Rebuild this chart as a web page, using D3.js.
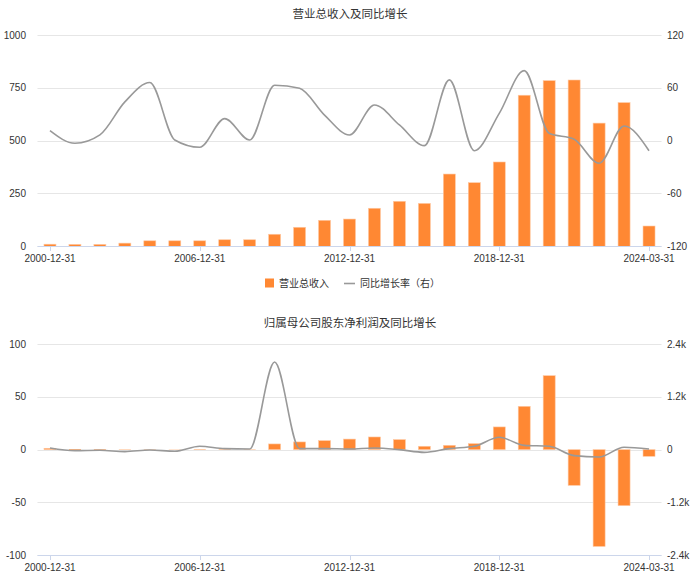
<!DOCTYPE html>
<html>
<head>
<meta charset="utf-8">
<script src="https://cdn.jsdelivr.net/npm/d3@7"></script>
<style>
  html, body { margin: 0; padding: 0; background: #ffffff; }
  svg { display: block; font-family: "Liberation Sans", Arial, "Noto Sans CJK SC", sans-serif; }
</style>
</head>
<body>
<svg id="chart" width="700" height="583"></svg>
<script>
// ---------- data ----------
const categories = [
  "2000-12-31","2001-12-31","2002-12-31","2003-12-31","2004-12-31","2005-12-31",
  "2006-12-31","2007-12-31","2008-12-31","2009-12-31","2010-12-31","2011-12-31",
  "2012-12-31","2013-12-31","2014-12-31","2015-12-31","2016-12-31","2017-12-31",
  "2018-12-31","2019-12-31","2020-12-31","2021-12-31","2022-12-31","2023-12-31",
  "2024-03-31"
];
const xTickLabels = ["2000-12-31","2006-12-31","2012-12-31","2018-12-31","2024-03-31"];

// chart 1: 营业总收入
const revenue = [10, 9, 9, 15, 26, 26, 26, 31, 31, 57, 90, 123, 129, 180, 213, 203, 342, 301, 399, 715, 784, 787, 583, 680, 96];
const revenueGrowth = [11.4, -3, 6.5, 44, 66, 0.8, -7.5, 25, 0.8, 63, 59.5, 29, 6.5, 40.5, 17.8, -5.7, 69, -11.4, 31, 79.5, 8.4, 1.6, -25.7, 16.7, -11.4];
const revLeftTicks = [0, 250, 500, 750, 1000];
const revRightTicks = [-120, -60, 0, 60, 120];
const revRightLabels = ["-120", "-60", "0", "60", "120"];

// chart 2: 归属母公司股东净利润
const netProfit = [1.3, 0.6, 0.5, 0.3, 0.3, 0.2, 0.4, 0.4, 0.3, 5.4, 7.3, 8.5, 10, 12, 9.5, 3.2, 4.1, 5.7, 21.5, 41, 70, -33.8, -91.6, -53, -6.3];
const netProfitGrowth = [38, -23, -15, -45, -8, -38, 76, 23, 15, 1990, 23, 23, 15, 38, 0, -61, 23, 76, 280, 98, 76, -136, -167, 53, 15];
const npLeftTicks = [-100, -50, 0, 50, 100];
const npRightTicks = [-2400, -1200, 0, 1200, 2400];
const npRightLabels = ["-2.4k", "-1.2k", "0", "1.2k", "2.4k"];

const titles = ["营业总收入及同比增长", "归属母公司股东净利润及同比增长"];
const legendLabels = ["营业总收入", "同比增长率（右）"];

// ---------- drawing ----------
const svg = d3.select("#chart");
const BAR = "#ff8833";
const LINE = "#999999";
const GRID = "#e6e6e6";
const AXIS = "#ccd6eb";
const TEXT = "#333333";

const x = d3.scaleBand().domain(categories).range([37.5, 661.5]).padding(0);
const barW = 12;

function drawChart(opt) {
  const g = svg.append("g");
  const yL = d3.scaleLinear().domain(opt.leftDomain).range([opt.bottom, opt.top]);
  const yR = d3.scaleLinear().domain(opt.rightDomain).range([opt.bottom, opt.top]);

  // title
  g.append("text").attr("x", 350).attr("y", opt.titleY)
    .attr("text-anchor", "middle").attr("font-size", 11.5).attr("fill", TEXT)
    .attr("font-family", "'Noto Sans CJK SC', sans-serif")
    .text(opt.title);

  // grid lines
  g.selectAll(".grid").data(opt.leftTicks).enter().append("line")
    .attr("x1", 37.5).attr("x2", 661.5)
    .attr("y1", d => Math.round(yL(d)) + 0.5).attr("y2", d => Math.round(yL(d)) + 0.5)
    .attr("stroke", GRID).attr("stroke-width", 1.2);

  // left axis labels
  g.selectAll(".ll").data(opt.leftTicks).enter().append("text")
    .attr("x", 26).attr("y", d => yL(d)).attr("dy", "0.35em")
    .attr("text-anchor", "end").attr("font-size", 10).attr("fill", TEXT)
    .text(d => d);

  // right axis labels
  g.selectAll(".rl").data(opt.rightTicks).enter().append("text")
    .attr("x", 667).attr("y", d => yR(d)).attr("dy", "0.35em")
    .attr("text-anchor", "start").attr("font-size", 10).attr("fill", TEXT)
    .text((d, i) => opt.rightLabels[i]);

  // bars
  const y0 = yL(0);
  g.selectAll(".bar").data(opt.bars).enter().append("rect")
    .attr("x", (d, i) => x(categories[i]) + x.bandwidth() / 2 - barW / 2)
    .attr("width", barW)
    .attr("y", d => Math.min(yL(d), y0))
    .attr("height", d => Math.abs(yL(d) - y0))
    .attr("fill", BAR)
    .attr("stroke", "#ffc9a3").attr("stroke-width", d => Math.abs(d) >= 1 ? 0.6 : 0);

  // x axis line at bottom
  g.append("line").attr("x1", 37.5).attr("x2", 661.5)
    .attr("y1", Math.round(opt.bottom) + 0.5).attr("y2", Math.round(opt.bottom) + 0.5)
    .attr("stroke", AXIS).attr("stroke-width", 1);

  // x ticks and labels
  const tg = g.selectAll(".xt").data(xTickLabels).enter().append("g");
  tg.append("line")
    .attr("x1", d => Math.round(x(d) + x.bandwidth() / 2) + 0.5)
    .attr("x2", d => Math.round(x(d) + x.bandwidth() / 2) + 0.5)
    .attr("y1", Math.round(opt.bottom)).attr("y2", Math.round(opt.bottom) + 5)
    .attr("stroke", AXIS);
  tg.append("text")
    .attr("x", d => x(d) + x.bandwidth() / 2).attr("y", opt.bottom + 16)
    .attr("text-anchor", "middle").attr("font-size", 10).attr("fill", TEXT)
    .text(d => d);

  // line
  const line = d3.line()
    .x((d, i) => x(categories[i]) + x.bandwidth() / 2)
    .y(d => yR(d))
    .curve(d3.curveMonotoneX);
  g.append("path").datum(opt.line).attr("d", line)
    .attr("fill", "none").attr("stroke", LINE).attr("stroke-width", 1.6);

  // legend
  if (opt.legendY) {
    const ly = opt.legendY;
    g.append("rect").attr("x", 265).attr("y", ly - 4.5).attr("width", 9).attr("height", 9).attr("fill", BAR);
    g.append("text").attr("x", 279).attr("y", ly).attr("dy", "0.35em")
      .attr("font-size", 10).attr("fill", TEXT)
      .attr("font-family", "'Noto Sans CJK SC', sans-serif")
      .text(legendLabels[0]);
    g.append("line").attr("x1", 344).attr("x2", 355).attr("y1", ly + 0.5).attr("y2", ly + 0.5)
      .attr("stroke", LINE).attr("stroke-width", 1.6);
    g.append("text").attr("x", 360).attr("y", ly).attr("dy", "0.35em")
      .attr("font-size", 10).attr("fill", TEXT)
      .attr("font-family", "'Noto Sans CJK SC', sans-serif")
      .text(legendLabels[1]);
  }
}

drawChart({
  title: titles[0], titleY: 18,
  top: 35, bottom: 246.3,
  leftDomain: [0, 1000], rightDomain: [-120, 120],
  leftTicks: revLeftTicks, rightTicks: revRightTicks, rightLabels: revRightLabels,
  bars: revenue, line: revenueGrowth,
  legendY: 283
});

drawChart({
  title: titles[1], titleY: 327,
  top: 344, bottom: 555.3,
  leftDomain: [-100, 100], rightDomain: [-2400, 2400],
  leftTicks: npLeftTicks, rightTicks: npRightTicks, rightLabels: npRightLabels,
  bars: netProfit, line: netProfitGrowth,
  legendY: null
});
</script>
</body>
</html>
